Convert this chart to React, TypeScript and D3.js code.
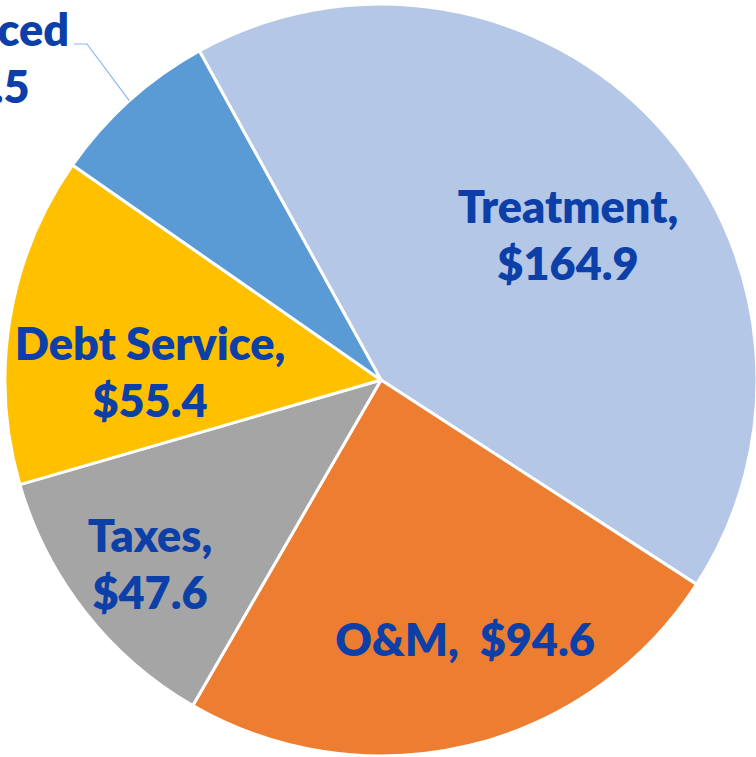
import React, { useEffect, useRef } from 'react';
import * as d3 from 'd3';

const categories = ['Treatment', 'O&M', 'Taxes', 'Debt Service', 'Produced'];
const values = [164.9, 94.6, 47.6, 55.4, 28.5];
const colors = ['#B4C7E7', '#ED7D31', '#A5A5A5', '#FFC000', '#5B9BD5'];
// label lines as shown on the chart
const labelLines = [
  ['Treatment,', '$164.9'],
  ['O&M,  $94.6'],
  ['Taxes,', '$47.6'],
  ['Debt Service,', '$55.4'],
  ['Produced', '$28.5'],
];
// label anchors (center x, first baseline y)
const labelAnchors = [
  [568, 223],
  [465, 656],
  [150, 552],
  [150, 360],
  [-28, 46],
];

const App = () => {
  const svgRef = useRef<SVGSVGElement>(null);

  useEffect(() => {
    const svg = d3.select(svgRef.current);
    svg.selectAll('*').remove();

    const width = 756;
    const height = 757;
    const cx = 381;
    const cy = 380;
    const radius = 376;
    const lineGap = 57;

    const pie = d3.pie<number>()
      .sort(null)
      .value(d => d)
      .startAngle(-28.9 * Math.PI / 180)
      .endAngle((360 - 28.9) * Math.PI / 180);

    const arc = d3.arc<d3.PieArcDatum<number>>()
      .innerRadius(0)
      .outerRadius(radius);

    const g = svg
      .attr('width', width)
      .attr('height', height)
      .append('g')
      .attr('transform', `translate(${cx},${cy})`);

    const arcs = pie(values);

    g.selectAll('path.slice')
      .data(arcs)
      .enter().append('path')
      .attr('class', 'slice')
      .attr('d', arc)
      .attr('fill', (d, i) => colors[i])
      .attr('stroke', '#fff')
      .attr('stroke-width', 3)
      .attr('stroke-linejoin', 'round');

    // leader line for the small slice
    const last = arcs[arcs.length - 1];
    const mid = (last.startAngle + last.endAngle) / 2;
    const ex = radius * Math.sin(mid);
    const ey = -radius * Math.cos(mid);
    svg.append('polyline')
      .attr('points', `74,44 87,44 ${cx + ex},${cy + ey}`)
      .attr('fill', 'none')
      .attr('stroke', '#8FB4F0')
      .attr('stroke-width', 1.2);

    const labels = svg.append('g')
      .style('font-family', 'Lato, "Open Sans", sans-serif')
      .style('font-weight', 800)
      .style('font-size', '45px')
      .attr('fill', '#0C3FA8');

    labelLines.forEach((lines, i) => {
      const [x, y] = labelAnchors[i];
      const t = labels.append('text')
        .attr('text-anchor', 'middle')
        .attr('x', x)
        .attr('y', y)
        .attr('xml:space', 'preserve');
      lines.forEach((ln, j) => {
        t.append('tspan')
          .attr('x', x)
          .attr('y', y + j * lineGap)
          .text(ln);
      });
    });
  }, []);

  return (
    <div style={{ margin: 0, padding: 0 }}>
      <style>{'body{margin:0;background:#fff;}'}</style>
      <svg ref={svgRef} style={{ display: 'block' }}></svg>
    </div>
  );
};

export default App;
